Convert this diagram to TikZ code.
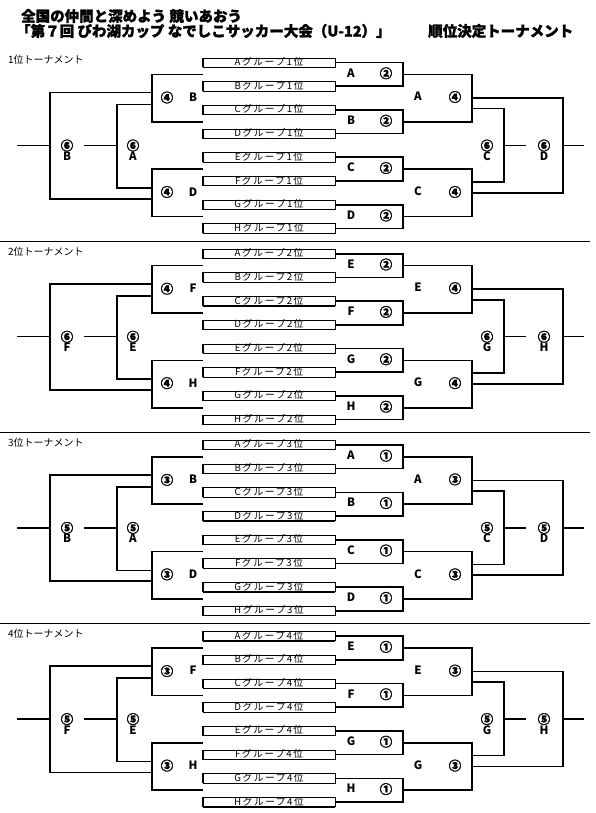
\documentclass[tikz,border=0pt]{standalone}
\usepackage{fontspec}
\setmainfont{Liberation Sans}
\newfontfamily\jp{Noto Sans CJK JP}
\newfontfamily\jph{Noto Sans CJK JP}[BoldFeatures={FakeBold=1.6}]
\newfontfamily\jpsp{Noto Sans CJK JP}[LetterSpace=16]
\tikzset{
  br/.style={line width=1.6pt},
  grp/.style={draw, line width=0.6pt, minimum width=132pt, inner xsep=0pt, inner ysep=0.3pt,
    text height=7.4pt, text depth=1.3pt, font=\jpsp\fontsize{9.7}{9.7}\selectfont},
  grpedge/.style={line width=1.3pt},
  grpbot/.style={line width=0.9pt},
  lab/.style={font=\jp\bfseries\fontsize{11.5}{11.5}\selectfont, inner sep=0pt},
  circ/.style={font=\jph\bfseries\fontsize{12.5}{12.5}\selectfont, inner sep=0pt},
  ttl/.style={font=\jph\bfseries\fontsize{14.5}{14.5}\selectfont, anchor=west, inner sep=0pt},
  seclab/.style={font=\jp\fontsize{10}{10}\selectfont, anchor=west, inner sep=0pt},
  sepline/.style={line width=0.8pt}
}
% #1 section index, #2 rank, #3 first circle, #4 second circle, #5 final circle, #6-#9 letters
\newcommand\tourn[9]{%
\begin{scope}[yshift=-#1*191.2pt]
  \node[seclab] (s#1) at (8,60) {#2位トーナメント};
  \foreach \gl [count=\i from 0] in {A,B,C,D,E,F,G,H} {
    \node[grp] (g#1\gl) at (269,62.5+23.7*\i) {\gl グループ#2位};
    \draw[grpedge] (g#1\gl.south west) -- (g#1\gl.north west);
    \draw[grpbot] (g#1\gl.south west) -- (g#1\gl.south east);
  }
  % right first round
  \coordinate (ra#1) at (403,74.35);
  \coordinate (rb#1) at (403,121.75);
  \coordinate (rc#1) at (403,169.15);
  \coordinate (rd#1) at (403,216.55);
  \draw[br] (g#1A.east) -| (ra#1) |- (g#1B.east);
  \draw[br] (g#1C.east) -| (rb#1) |- (g#1D.east);
  \draw[br] (g#1E.east) -| (rc#1) |- (g#1F.east);
  \draw[br] (g#1G.east) -| (rd#1) |- (g#1H.east);
  % right second round
  \coordinate (qa#1) at (472,74.35);
  \coordinate (qb#1) at (472,121.75);
  \coordinate (qc#1) at (472,169.15);
  \coordinate (qd#1) at (472,216.55);
  \draw[br] (ra#1) -- (qa#1) -- (qb#1) -- (rb#1);
  \draw[br] (rc#1) -- (qc#1) -- (qd#1) -- (rd#1);
  % right finals
  \coordinate (ir#1) at (504,145.45);
  \coordinate (fr#1) at (563,145.45);
  \coordinate (ire#1) at (526,145.45);
  \coordinate (fre#1) at (584,145.45);
  \draw[br] (472,98.05) -| (fr#1) |- (472,192.85);
  \draw[br] (472,108.5) -| (ir#1) |- (472,182);
  \draw[br] (ir#1) -- (ire#1);
  \draw[br] (fr#1) -- (fre#1);
  % left second round
  \coordinate (la#1) at (152,98.05);
  \coordinate (lb#1) at (152,192.85);
  \draw[br] (g#1A.west |- ra#1) -| (la#1) |- (g#1C.west |- rb#1);
  \draw[br] (g#1E.west |- rc#1) -| (lb#1) |- (g#1G.west |- rd#1);
  % left finals
  \coordinate (lo#1) at (50,145.45);
  \coordinate (li#1) at (117,145.45);
  \coordinate (loe#1) at (17,145.45);
  \coordinate (lie#1) at (84,145.45);
  \draw[br] (152,92.5) -| (lo#1) |- (152,198.85);
  \draw[br] (152,104.5) -| (li#1) |- (152,188);
  \draw[br] (loe#1) -- (lo#1);
  \draw[br] (lie#1) -- (li#1);
  % labels right first
  \node[lab] (x1#1) at (351,72.8) {#6};  \node[circ] (c1#1) at (386,73.3) {#3};
  \node[lab] (x2#1) at (351,120.2) {#7}; \node[circ] (c2#1) at (386,120.7) {#3};
  \node[lab] (x3#1) at (351,167.6) {#8}; \node[circ] (c3#1) at (386,168.1) {#3};
  \node[lab] (x4#1) at (351,215) {#9}; \node[circ] (c4#1) at (386,215.5) {#3};
  % labels right second
  \node[lab] (y1#1) at (418,96.5) {#6};  \node[circ] (d1#1) at (455,97) {#4};
  \node[lab] (y2#1) at (418,191.5) {#8}; \node[circ] (d2#1) at (455,192) {#4};
  % labels left second
  \node[circ] (e1#1) at (167,97.5) {#4}; \node[lab] (z1#1) at (193,97) {#7};
  \node[circ] (e2#1) at (167,192) {#4};  \node[lab] (z2#1) at (193,192) {#9};
  % finals labels
  \node[circ] (f1#1) at (67,145.5) {#5};  \node[lab] (h1#1) at (67,156.3) {#7};
  \node[circ] (f2#1) at (133,145.5) {#5}; \node[lab] (h2#1) at (133,156.3) {#6};
  \node[circ] (f3#1) at (487,145.5) {#5}; \node[lab] (h3#1) at (487,156.3) {#8};
  \node[circ] (f4#1) at (544,145.5) {#5}; \node[lab] (h4#1) at (544,156.3) {#9};
\end{scope}}
\begin{document}
\begin{tikzpicture}[x=1pt,y=-1pt]
  \useasboundingbox (0,0) rectangle (595,813);
  \fill[white] (0,0) rectangle (595,813);
  \node[ttl] (t1) at (21,16) {全国の仲間と深めよう 競いあおう};
  \node[ttl] (t2) at (16,31) {「第７回 びわ湖カップ なでしこサッカー大会（U-12）」};
  \node[ttl] (t3) at (428,31) {順位決定トーナメント};
  \tourn{0}{1}{②}{④}{⑥}{A}{B}{C}{D}
  \tourn{1}{2}{②}{④}{⑥}{E}{F}{G}{H}
  \tourn{2}{3}{①}{③}{⑤}{A}{B}{C}{D}
  \tourn{3}{4}{①}{③}{⑤}{E}{F}{G}{H}
  \coordinate (sl1) at (0,241.2);  \coordinate (sr1) at (590,241.2);
  \coordinate (sl2) at (0,432.4);  \coordinate (sr2) at (590,432.4);
  \coordinate (sl3) at (0,623.6);  \coordinate (sr3) at (590,623.6);
  \draw[sepline] (sl1) -- (sr1);
  \draw[sepline] (sl2) -- (sr2);
  \draw[sepline] (sl3) -- (sr3);
\end{tikzpicture}
\end{document}
